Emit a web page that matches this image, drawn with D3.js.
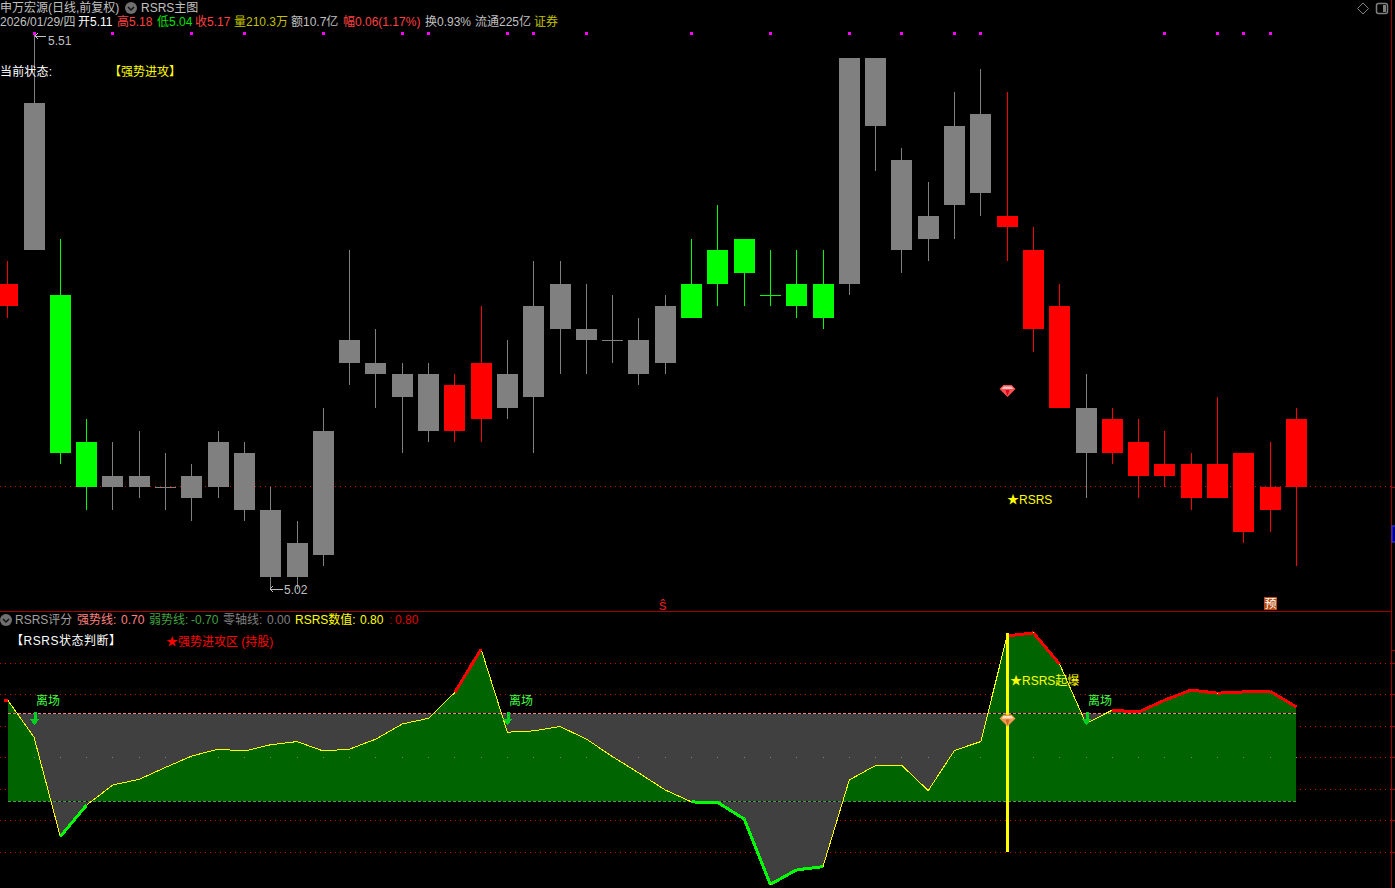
<!DOCTYPE html>
<html><head><meta charset="utf-8">
<script src="https://cdnjs.cloudflare.com/ajax/libs/d3/7.8.5/d3.min.js"></script>
<style>
html,body{margin:0;padding:0;background:#000;overflow:hidden}
svg{display:block}
text{font-family:"Liberation Sans","Noto Sans CJK SC",sans-serif;font-size:12px}
</style></head><body><svg id="c" width="1395" height="888"></svg>
<script>
// ---------- data ----------
const highs   =[5.31,5.51,5.33,5.17,5.15,5.16,5.14,5.13,5.16,5.15,5.11,5.08,5.18,5.32,5.25,5.22,5.22,5.21,5.27,5.24,5.31,5.31,5.29,5.28,5.26,5.28,5.33,5.36,5.33,5.32,5.32,5.32,5.49,5.49,5.41,5.38,5.46,5.48,5.46,5.34,5.29,5.21,5.18,5.17,5.16,5.14,5.19,5.14,5.15,5.18];
const bodyTop =[5.29,5.45,5.28,5.15,5.12,5.12,5.11,5.12,5.15,5.14,5.09,5.06,5.16,5.24,5.22,5.21,5.21,5.20,5.22,5.21,5.27,5.29,5.25,5.24,5.24,5.27,5.29,5.32,5.33,5.28,5.29,5.29,5.49,5.49,5.40,5.35,5.43,5.44,5.35,5.32,5.27,5.18,5.17,5.15,5.13,5.13,5.13,5.14,5.11,5.17];
const bodyBot =[5.27,5.32,5.14,5.11,5.11,5.11,5.11,5.10,5.11,5.09,5.03,5.03,5.05,5.22,5.21,5.19,5.16,5.16,5.17,5.18,5.19,5.25,5.24,5.24,5.21,5.22,5.26,5.29,5.30,5.28,5.27,5.26,5.29,5.43,5.32,5.33,5.36,5.37,5.34,5.25,5.18,5.14,5.14,5.12,5.12,5.10,5.10,5.07,5.09,5.11];
const lows    =[5.26,5.32,5.13,5.09,5.09,5.10,5.09,5.08,5.10,5.08,5.02,5.02,5.04,5.20,5.18,5.14,5.15,5.15,5.15,5.17,5.14,5.21,5.21,5.22,5.20,5.21,5.26,5.27,5.27,5.27,5.26,5.25,5.28,5.39,5.30,5.31,5.33,5.35,5.31,5.23,5.18,5.10,5.13,5.10,5.11,5.09,5.10,5.06,5.07,5.04];
const states  ="rnggnnnnnnnnnnnnnrrnnnnnnnggggggnnnnnnrrrnrrrrrrrr".slice(0,50);
const rsrs    =[0.91,0.32,-1.26,-0.76,-0.44,-0.35,-0.16,0.02,0.13,0.10,0.20,0.25,0.10,0.13,0.29,0.53,0.62,1.03,1.72,0.40,0.42,0.49,0.29,0.01,-0.25,-0.52,-0.71,-0.72,-0.98,-2.02,-1.79,-1.74,-0.36,-0.13,-0.13,-0.53,0.11,0.25,1.93,1.98,1.48,0.54,0.75,0.72,0.91,1.07,1.02,1.04,1.05,0.80];
const markIdx =[1,4,7,9,12,15,16,19,20,22,26,29,32,34,36,37,44,46,47,48];
const exitIdx =[1,19,41];
const strongLine=0.70, weakLine=-0.70, zeroLine=0;
const gridVals=[1.5,1,0.5,0,-0.5,-1,-1.5];
const titleTexts=[["申万宏源(日线,前复权)",0,"#c0c0c0"],["RSRS主图",141,"#c0c0c0"]];
const quoteTexts=[["2026/01/29/四",0,"#c0c0c0"],["开",78,"#fff"],["5.11",90,"#fff"],["高",117,"#ff4040"],["5.18",129,"#ff4040"],["低",157,"#00e000"],["5.04",169,"#00e000"],["收",195,"#ff4040"],["5.17",207,"#ff4040"],["量",234,"#c0c000"],["210.3万",246,"#c0c000"],["额10.7亿",291,"#c0c0c0"],["幅",343,"#ff4040"],["0.06(1.17%)",355,"#ff4040"],["换0.93%",425,"#c0c0c0"],["流通225亿",475,"#c0c0c0"],["证券",534,"#c0c000"]];
const subTexts=[["RSRS评分",15,"#a0a0a0"],["强势线:",77,"#ff8080"],["0.70",121,"#ff8080"],["弱势线:",149,"#40a040"],["-0.70",191,"#40a040"],["零轴线:",223,"#808080"],["0.00",267,"#808080"],["RSRS数值:",295,"#ffff00"],["0.80",360,"#ffff00"],[":",389,"#a00000"],["0.80",395,"#e00000"]];

// ---------- scales ----------
const svg=d3.select("#c");
const x=d3.scaleLinear().domain([0,49]).range([7.7,1296.4]);
const py=d3.scaleLinear().domain([5.11,5.49]).range([487,58]);
const ry=d3.scaleLinear().domain([-0.7,0.7]).range([801.3,713.3]);
const col={r:"#ff0000",g:"#00ff00",n:"#808080"};
const px=i=>Math.floor(x(i));

svg.append("rect").attr("width",1395).attr("height",888).attr("fill","#000");
const crisp=svg.append("g").attr("shape-rendering","crispEdges");

// dotted reference lines
const dotted="#d00000";
crisp.append("line").attr("x1",0).attr("x2",1391).attr("y1",Math.round(py(5.11))-.5).attr("y2",Math.round(py(5.11))-.5)
  .attr("stroke",dotted).attr("stroke-dasharray","1 4");
crisp.selectAll(".g").data(gridVals).join("line").attr("x1",0).attr("x2",1391)
  .attr("y1",d=>Math.round(ry(d))+.5).attr("y2",d=>Math.round(ry(d))+.5)
  .attr("stroke",dotted).attr("stroke-dasharray","1 4");

// candles
const idx=d3.range(highs.length);
crisp.selectAll(".w").data(idx).join("line")
  .attr("x1",i=>px(i)+.5).attr("x2",i=>px(i)+.5)
  .attr("y1",i=>py(highs[i])).attr("y2",i=>py(lows[i]))
  .attr("stroke",i=>col[states[i]]);
crisp.selectAll(".b").data(idx).join("rect")
  .attr("x",i=>px(i)-10).attr("width",21)
  .attr("y",i=>py(bodyTop[i]))
  .attr("height",i=>Math.max(1,py(bodyBot[i])-py(bodyTop[i])))
  .attr("fill",i=>col[states[i]]);

// magenta marks
crisp.selectAll(".m").data(markIdx).join("rect")
  .attr("x",i=>px(i)-1).attr("y",32).attr("width",3).attr("height",3).attr("fill","#ff00ff");

// panel lines
crisp.append("line").attr("x1",0).attr("x2",1391).attr("y1",611.5).attr("y2",611.5).attr("stroke","#a00000");
crisp.append("line").attr("x1",1391.5).attr("x2",1391.5).attr("y1",0).attr("y2",888).attr("stroke","#a00000");
// right-side axis ticks
const axisG=svg.append("g").attr("transform","translate(1392,0)").attr("shape-rendering","crispEdges");
axisG.call(d3.axisRight(ry).tickValues([1.7,...gridVals]).tickSize(3).tickFormat(""));
axisG.selectAll("line").attr("stroke","#a00000");axisG.select(".domain").remove();
crisp.append("line").attr("x1",1392).attr("x2",1395).attr("y1",py(5.11)).attr("y2",py(5.11)).attr("stroke","#a00000");

// RSRS area: grey above the value, green below, between the two bands
const defs=svg.append("defs");
defs.append("clipPath").attr("id","belowStrong").append("rect").attr("x",0).attr("width",1395).attr("y",ry(strongLine)).attr("height",300);
defs.append("clipPath").attr("id","aboveWeak").append("rect").attr("x",0).attr("width",1395).attr("y",0).attr("height",ry(weakLine));
const fillG=svg.append("g").attr("shape-rendering","crispEdges");
fillG.append("path").attr("clip-path","url(#belowStrong)").attr("fill","#404040")
  .attr("d",d3.area().x((d,i)=>x(i)).y0(ry(strongLine)).y1(d=>ry(d))(rsrs));
fillG.append("path").attr("clip-path","url(#aboveWeak)").attr("fill","#006400")
  .attr("d",d3.area().x((d,i)=>x(i)).y0(ry(weakLine)).y1(d=>ry(d))(rsrs));

// everything in the lower panel that sits above the fills
const over=svg.append("g").attr("shape-rendering","crispEdges");
// strong / weak dashed lines
[[strongLine,"#ff8080"],[weakLine,"#40a040"]].forEach(([v,c])=>{
  const yy=Math.round(ry(v))+.5;
  over.append("line").attr("x1",x(0)).attr("x2",x(49)).attr("y1",yy).attr("y2",yy).attr("stroke","#000");
  over.append("line").attr("x1",x(0)).attr("x2",x(49)).attr("y1",yy).attr("y2",yy).attr("stroke",c).attr("stroke-dasharray","3 2");
});
// zero dots
over.selectAll(".z").data(idx.slice(1)).join("rect")
  .attr("x",i=>px(i)).attr("y",Math.round(ry(zeroLine))).attr("width",1).attr("height",1).attr("fill","#808080");

// RSRS line: yellow with thick red/green segments
const lineG=svg.append("g").attr("shape-rendering","crispEdges").attr("fill","none");
const seg=d3.line().x(d=>x(d[0])).y(d=>ry(d[1]));
lineG.append("path").attr("stroke","#ffff00").attr("stroke-width",1)
  .attr("d",d3.line().x((d,i)=>x(i)).y(d=>ry(d))(rsrs));
d3.pairs(rsrs.map((v,i)=>[i,v])).forEach(([a,b])=>{
  if(a[1]>strongLine&&b[1]>strongLine) lineG.append("path").attr("stroke","#ff0000").attr("stroke-width",3).attr("d",seg([a,b]));
  if(a[1]<weakLine&&b[1]<weakLine) lineG.append("path").attr("stroke","#00ff00").attr("stroke-width",3).attr("d",seg([a,b]));
});
lineG.append("path").attr("stroke","#ff0000").attr("stroke-width",3).attr("d",seg([[-0.15,rsrs[0]],[0,rsrs[0]]]));

// yellow vertical signal bar
svg.append("rect").attr("shape-rendering","crispEdges").attr("x",px(38)-1).attr("width",3).attr("y",ry(1.97)).attr("height",ry(-1.5)-ry(1.97)).attr("fill","#ffff00");

// exit arrows + labels
exitIdx.forEach(i=>{
  const cx=px(i)+.5;
  svg.append("path").attr("shape-rendering","crispEdges").attr("fill","#00d020")
    .attr("d",`M${cx-1},712H${cx+2}V719H${cx+5}L${cx},725L${cx-5},719H${cx-1}Z`);
  svg.append("text").attr("x",px(i)+2).attr("y",705).attr("fill","#40ff40").text("离场");
});

// gems
function gem(cx,cy,main,light,dark){
  const g=svg.append("g").attr("transform",`translate(${cx},${cy})`);
  g.append("path").attr("fill",main).attr("d","M-4,-6H4L8,-2L0,6L-8,-2Z");
  g.append("path").attr("fill",light).attr("d","M-4,-4.5H4L6,-2H-6Z");
  g.append("path").attr("fill",dark).attr("d","M-2,-1H2L0,5Z");
}
gem(px(38)+.5,py(5.195),"#ff5050","#ffc0c0","#e00020");
gem(px(38)+.5,ry(0.585),"#f09850","#ffe0c0","#d06820");

// ---------- text ----------
const t=(s,xx,yy,c,extra)=>{const e=svg.append("text").attr("x",xx).attr("y",yy).attr("fill",c).text(s);if(extra)extra(e);return e;};
titleTexts.forEach(d=>t(d[0],d[1],12,d[2]));
quoteTexts.forEach(d=>t(d[0],d[1],26,d[2]));
subTexts.forEach(d=>t(d[0],d[1],624,d[2]));
t("当前状态:",0,76,"#ffffff").attr("textLength",52);
t("【强势进攻】",109,76,"#ffff00");
t("5.51",48,45,"#c0c0c0");
t("5.02",284,594,"#c0c0c0");
t("★RSRS",1007,504,"#ffff00");
t("【RSRS状态判断】",11,645,"#ffffff").attr("textLength",110);
t("★强势进攻区 (持股)",166,646,"#ff0000");
t("★RSRS起爆",1010,685,"#ffff00");
t("ŝ",659,610,"#e02020",e=>e.style("font-size","15px"));
// leader arrows
const arrow=(x0,x1,yy)=>svg.append("path").attr("fill","none").attr("stroke","#c0c0c0").attr("shape-rendering","crispEdges")
  .attr("d",`M${x0+3},${yy-3}L${x0},${yy}L${x0+3},${yy+3}M${x0},${yy}H${x1}`);
arrow(35,46,36);
arrow(px(10),283,589);
// 预 badge
svg.append("rect").attr("x",1264).attr("y",597).attr("width",13).attr("height",13).attr("fill","#b54a10");
t("预",1264.5,608,"#ffffff",e=>e.style("font-size","12px"));
// right-edge marker
svg.append("rect").attr("x",1392).attr("y",526).attr("width",4).attr("height",16).attr("fill","#000090").attr("stroke","#4040ff");
// collapse icons
function chev(cx,cy){
  svg.append("circle").attr("cx",cx).attr("cy",cy).attr("r",6).attr("fill","#707070");
  svg.append("path").attr("fill","none").attr("stroke","#111").attr("stroke-width",1.5).attr("d",`M${cx-3},${cy-1}L${cx},${cy+2}L${cx+3},${cy-1}`);
}
chev(131,8);chev(6,620);
// top-right icons
svg.append("path").attr("fill","none").attr("stroke","#808080").attr("d","M1363,3L1368.5,8.5L1363,14L1357.5,8.5Z");
svg.append("rect").attr("x",1376.5).attr("y",3.5).attr("width",11).attr("height",10).attr("rx",2).attr("fill","none").attr("stroke","#808080").attr("stroke-width",1.5);
svg.append("rect").attr("x",1383).attr("y",5).attr("width",3).attr("height",7).attr("fill","#808080");
</script></body></html>
